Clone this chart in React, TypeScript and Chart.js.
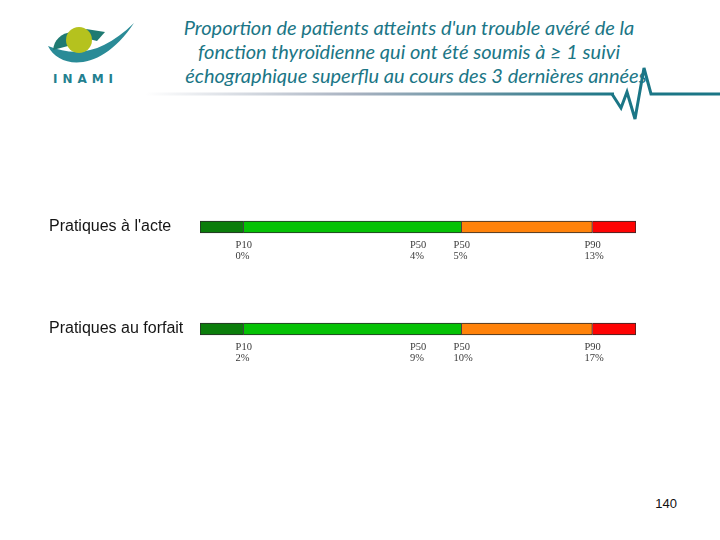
import React, { useEffect, useRef } from 'react';
import { Chart, registerables } from 'chart.js';

Chart.register(...registerables);

// ---- Data ----
const categories = ["Pratiques à l'acte", 'Pratiques au forfait'];
// schematic band widths (percentile bands, on a 0-100 scale)
const bandBelowP10 = [10, 10];
const bandP10toP50 = [50, 50];
const bandP50toP90 = [30, 30];
const bandAboveP90 = [10, 10];
const markerNames = ['P10', 'P50', 'P50', 'P90'];
const markerPositions = [10, 50, 60, 90];
const markerValuesActe = ['0%', '4%', '5%', '13%'];
const markerValuesForfait = ['2%', '9%', '10%', '17%'];
const markerValues = [markerValuesActe, markerValuesForfait];

const titleLines = [
  "Proportion de patients atteints d'un trouble avéré de la",
  'fonction thyroïdienne qui ont été soumis à ≥ 1 suivi',
  'échographique superflu au cours des 3 dernières années',
];
const pageNumber = '140';

const TEAL = '#1b7686';

const markerPlugin = {
  id: 'markerLabels',
  afterDatasetsDraw(chart: any) {
    const { ctx } = chart;
    const xs = chart.scales.x;
    const ys = chart.scales.y;
    ctx.save();
    ctx.font = '10.5px "Liberation Serif", "DejaVu Serif", serif';
    ctx.fillStyle = '#3a3a3a';
    ctx.textAlign = 'left';
    ctx.textBaseline = 'middle';
    categories.forEach((_, i) => {
      const yBottom = ys.getPixelForValue(i) + 6;
      markerPositions.forEach((p, k) => {
        const x = xs.getPixelForValue(p) - 8;
        ctx.fillText(markerNames[k], x, yBottom + 12);
        ctx.fillText(markerValues[i][k], x, yBottom + 23);
      });
    });
    ctx.restore();
  },
};

function BarChart() {
  const ref = useRef<HTMLCanvasElement>(null);
  useEffect(() => {
    if (!ref.current) return;
    const border = (first: boolean) => ({ top: 1, bottom: 1, right: 1, left: first ? 1 : 0 });
    const mk = (label: string, data: number[], color: string, first = false) => ({
      label,
      data,
      backgroundColor: color,
      borderColor: '#2b2b2b',
      borderWidth: border(first),
      borderSkipped: false,
      barThickness: 12,
    });
    const chart = new Chart(ref.current, {
      type: 'bar',
      data: {
        labels: categories,
        datasets: [
          mk('< P10', bandBelowP10, '#0b7d0b', true),
          mk('P10-P50', bandP10toP50, '#05c205'),
          mk('P50-P90', bandP50toP90, '#ff820a'),
          mk('> P90', bandAboveP90, '#fe0303'),
        ],
      },
      options: {
        indexAxis: 'y',
        animation: false,
        responsive: false,
        maintainAspectRatio: false,
        layout: { padding: { left: 49, top: 176, bottom: 160, right: 84 } },
        plugins: { legend: { display: false }, tooltip: { enabled: false } },
        scales: {
          x: { stacked: true, min: 0, max: 100, display: false },
          y: {
            stacked: true,
            grid: { display: false },
            border: { display: false },
            afterFit: (s: any) => {
              s.width = 151;
            },
            ticks: {
              crossAlign: 'far',
              color: '#151515',
              font: { family: '"Liberation Sans", Arial, sans-serif', size: 16 },
            },
          },
        },
      },
      plugins: [markerPlugin],
    } as any);
    return () => chart.destroy();
  }, []);
  return (
    <canvas
      ref={ref}
      width={720}
      height={540}
      style={{ position: 'absolute', left: 0, top: 0, width: 720, height: 540 }}
    />
  );
}

function Header() {
  const titleX = [409, 409, 416];
  return (
    <svg
      width={720}
      height={540}
      style={{ position: 'absolute', left: 0, top: 0 }}
      xmlns="http://www.w3.org/2000/svg"
    >
      <defs>
        <linearGradient id="ul" x1="145" y1="0" x2="615" y2="0" gradientUnits="userSpaceOnUse">
          <stop offset="0" stopColor="#ffffff" />
          <stop offset="0.45" stopColor="#a7b1c0" />
          <stop offset="0.8" stopColor="#4f8898" />
          <stop offset="1" stopColor={TEAL} />
        </linearGradient>
      </defs>
      {/* logo */}
      <path d="M 48 46 C 60 70, 102 72, 134 23 C 104 52, 78 58, 48 46 Z" fill="#2a8b97" />
      <path d="M 53 50 C 54 40, 61 33, 72 32 L 68 46 Z" fill="#1f7a72" />
      <path d="M 86 29 L 105 32 L 97 41 L 89 39 Z" fill="#1f7a72" />
      <circle cx={79} cy={40} r={13} fill="#b5c21e" />
      <text
        x={53}
        y={83}
        textLength={60}
        lengthAdjust="spacing"
        fill="#23808f"
        style={{ font: 'bold 12px "DejaVu Sans", sans-serif' }}
      >
        INAMI
      </text>
      {/* title */}
      {titleLines.map((t, i) => (
        <text
          key={i}
          x={titleX[i]}
          y={35 + i * 24}
          textAnchor="middle"
          fill={TEAL}
          style={{ font: 'italic 20px Lato, "Open Sans", sans-serif' }}
        >
          {t}
        </text>
      ))}
      {/* underline with heartbeat */}
      <line x1={145} y1={94} x2={614} y2={94} stroke="url(#ul)" strokeWidth={3} />
      <polyline
        points="612,94 621,108 627,92 635,119 644,68 651,94 720,94"
        fill="none"
        stroke={TEAL}
        strokeWidth={3}
        strokeLinejoin="miter"
      />
      <text
        x={677}
        y={508}
        textAnchor="end"
        fill="#111"
        style={{ font: '13px "Liberation Sans", Arial, sans-serif' }}
      >
        {pageNumber}
      </text>
    </svg>
  );
}

export default function App() {
  return (
    <div style={{ position: 'absolute', left: 0, top: 0, width: 720, height: 540, background: '#fff' }}>
      <Header />
      <BarChart />
    </div>
  );
}
